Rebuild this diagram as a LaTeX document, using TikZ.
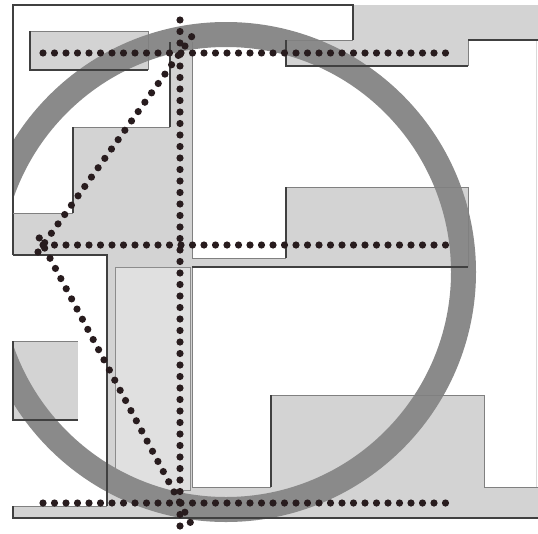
\documentclass[tikz,border=0pt]{standalone}
\usetikzlibrary{calc}

\definecolor{areagray}{RGB}{211,211,211}
\definecolor{innergray}{RGB}{224,224,224}
\definecolor{ringgray}{RGB}{138,138,138}
\definecolor{dotcol}{RGB}{40,28,30}

\pgfdeclarelayer{areafill}
\pgfdeclarelayer{ringband}
\pgfsetlayers{areafill,ringband,main}
\newcommand{\GrayArea}[1]{%
  \begin{pgfonlayer}{areafill}
    \path[fill=areagray] #1 -- cycle;
  \end{pgfonlayer}
}
\newcommand{\InnerArea}[1]{%
  \begin{pgfonlayer}{areafill}
    \path[fill=innergray,draw=black!45,line width=0.8pt] #1 -- cycle;
  \end{pgfonlayer}
}

\begin{document}
\begin{tikzpicture}[
    x=1pt,y=-1pt,
    line cap=butt,
    line join=miter,
    thinedge/.style={draw=black!50, line width=0.8pt},
    darkedge/.style={draw=black!75, line width=1.8pt},
    frameedge/.style={draw=black!75, line width=1.4pt},
    faintedge/.style={draw=black!15, line width=0.6pt},
    ringline/.style={draw=ringgray, line width=25pt},
    dotline/.style={
        draw=dotcol,
        line width=7.2pt,
        line cap=round,
        dash pattern=on 0pt off 11.5pt
    }
]
\useasboundingbox (0,0) rectangle (538,533);



\coordinate (O) at (226,272);

\coordinate (T) at (180,53);
\coordinate (L) at (43,245);
\coordinate (B) at (180,503);

\coordinate (TL) at (43,53);
\coordinate (TR) at (450,53);
\coordinate (LR) at (450,245);
\coordinate (BL) at (43,503);
\coordinate (BR) at (450,503);
\coordinate (VT) at (180,20);
\coordinate (VB) at (180,527);


\GrayArea{(30,31)--(148,31)--(148,70)--(30,70)}
\GrayArea{(353,5)--(538,5)--(538,40)--(468,40)--(468,66)--(286,66)--(286,40)--(353,40)}
\GrayArea{(13,213)--(73,213)--(73,127)--(170,127)--(170,42)--(192,42)--(192,258)--(286,258)
    --(286,187)--(468,187)--(468,267)--(192,267)--(192,487)--(271,487)--(271,395)--(484,395)
    --(484,487)--(538,487)--(538,518)--(13,518)--(13,506)--(107,506)--(107,255)--(13,255)}
\GrayArea{(13,341)--(78,341)--(78,420)--(13,420)}
\InnerArea{(115,267)--(190,267)--(190,490)--(115,490)}


\begin{pgfonlayer}{ringband}
    \begin{scope}
        \clip (13,0) rectangle (538,533);
        \draw[ringline] (O) circle[radius=237.5];
    \end{scope}
\end{pgfonlayer}


\draw[frameedge] (13,255)--(13,5)--(353,5)--(353,40);
\draw[faintedge] (536,40)--(536,487);


\draw[thinedge] (30,31)--(148,31)--(148,70);
\draw[thinedge] (286,40)--(353,40);
\draw[thinedge] (468,40)--(468,66);
\draw[thinedge] (13,213)--(73,213);
\draw[thinedge] (73,127)--(170,127);
\draw[thinedge] (192,42)--(192,258)--(286,258);
\draw[thinedge] (286,187)--(468,187)--(468,267);
\draw[thinedge] (192,267)--(192,487)--(271,487);
\draw[thinedge] (271,395)--(484,395)--(484,487)--(538,487);
\draw[thinedge] (13,506)--(107,506);
\draw[thinedge] (13,341)--(78,341);


\draw[darkedge] (30,31)--(30,70)--(148,70);
\draw[darkedge] (286,40)--(286,66)--(468,66);
\draw[darkedge] (468,40)--(538,40);
\draw[darkedge] (73,213)--(73,127);
\draw[darkedge] (170,127)--(170,42);
\draw[darkedge] (13,255)--(107,255)--(107,506);
\draw[darkedge] (286,258)--(286,187);
\draw[darkedge] (468,267)--(192,267);
\draw[darkedge] (271,487)--(271,395);
\draw[darkedge] (13,506)--(13,518)--(538,518);
\draw[darkedge] (13,341)--(13,420)--(78,420);


\foreach \P/\Q in {TL/TR,L/LR,BL/BR,VT/VB} {
    \draw[dotline] (\P) -- (\Q);
}
\draw[dotline] ($(T)!-0.085!(L)$) -- ($(L)!-0.05!(T)$);
\draw[dotline] ($(B)!-0.075!(L)$) -- ($(L)!-0.05!(B)$);
\end{tikzpicture}
\end{document}
